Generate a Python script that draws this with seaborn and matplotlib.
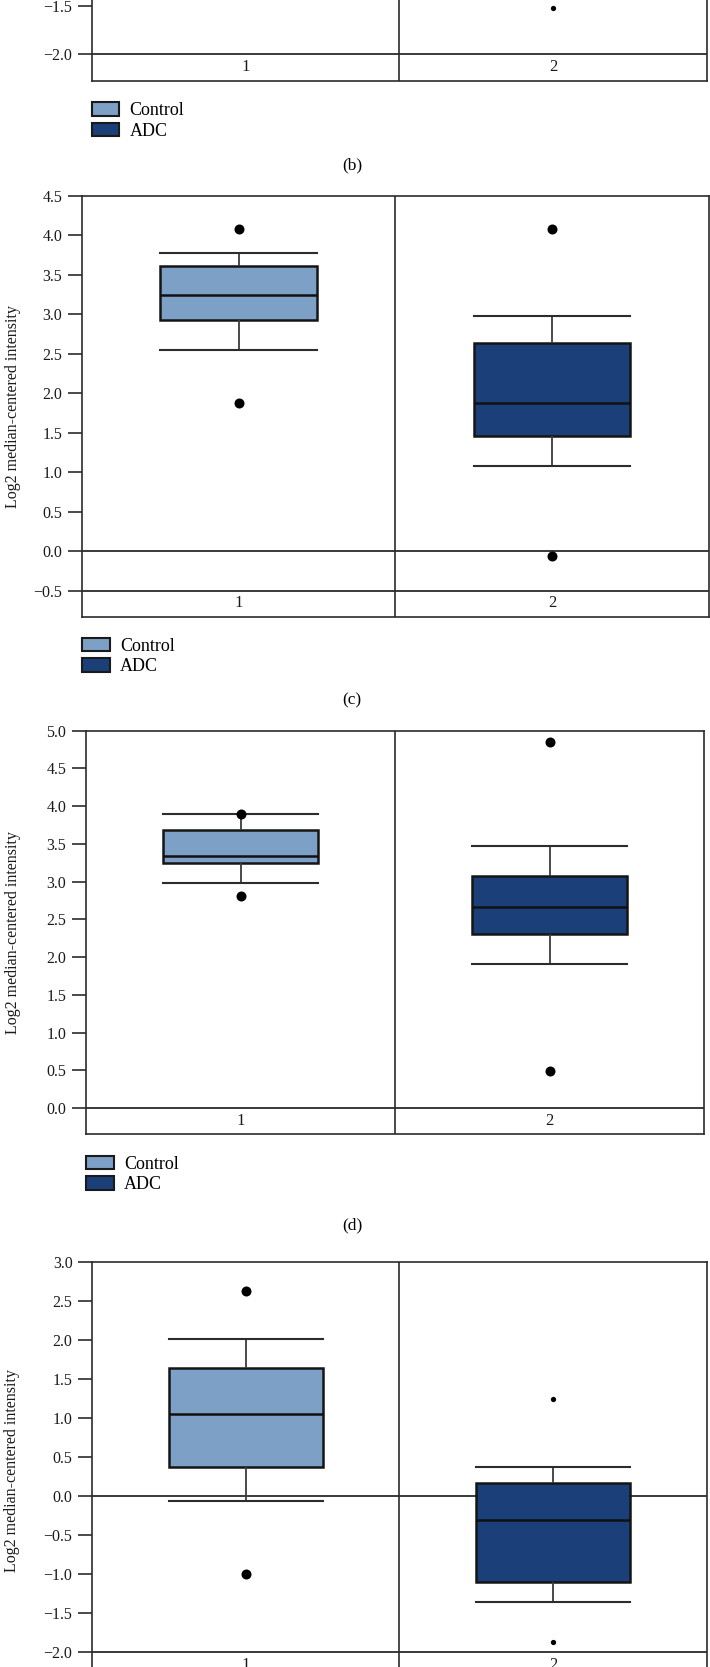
import numpy as np
import pandas as pd
import matplotlib
matplotlib.use("Agg")
import matplotlib.pyplot as plt
from matplotlib.patches import Patch
import seaborn as sns

# ---------------- data ----------------
groups = ["1", "2"]
group_names = ["Control", "ADC"]
group_colors = ["#7DA0C6", "#1A3F79"]

# box summaries: lower whisker, Q1, median, Q3, upper whisker
# panel (b) (only the bottom of the panel is visible)
b_adc_out = [-1.528]

# panel (c)
c_ctrl_box = [2.545, 2.929, 3.238, 3.605, 3.774]
c_ctrl_out = [4.078, 1.873]
c_adc_box = [1.075, 1.464, 1.878, 2.638, 2.980]
c_adc_out = [4.078, -0.057]

# panel (d)
d_ctrl_box = [2.981, 3.251, 3.344, 3.688, 3.891]
d_ctrl_out = [3.900, 2.805]
d_adc_box = [1.913, 2.306, 2.659, 3.079, 3.472]
d_adc_out = [4.854, 0.495]

# panel (e)
e_ctrl_box = [-0.065, 0.376, 1.052, 1.647, 2.020]
e_ctrl_out = [2.632, -0.998]
e_adc_box = [-1.366, -1.110, -0.309, 0.162, 0.372]
e_adc_out = [1.245, -1.876]

y_label = "Log2 median-centered intensity"

# ---------------- style ----------------
plt.rcParams["font.family"] = ["Liberation Serif", "DejaVu Serif"]
LINE = "#2b2b2b"

W, H = 710, 1667
fig = plt.figure(figsize=(W / 100, H / 100), dpi=100)


def add_ax(left, top, right, bottom):
    return fig.add_axes([left / W, 1 - bottom / H, (right - left) / W, (bottom - top) / H])


def draw_box(ax, ctrl_box, adc_box):
    df = pd.DataFrame({
        "group": ["1"] * len(ctrl_box) + ["2"] * len(adc_box),
        "value": ctrl_box + adc_box,
    })
    sns.boxplot(data=df, x="group", y="value", hue="group", order=groups,
                hue_order=groups, palette=group_colors, saturation=1,
                width=0.5, whis=(0, 100), linecolor="#151515", linewidth=1.8,
                legend=False, ax=ax,
                whiskerprops={"color": "#3c3c3c", "linewidth": 1.3},
                capprops={"color": "#2c2c2c", "linewidth": 1.5},
                medianprops={"color": "#111111", "linewidth": 1.8},
                capwidths=0.5)


def draw_out(ax, grp, vals, size):
    sns.stripplot(x=[grp] * len(vals), y=vals, order=groups, jitter=False,
                  color="black", size=size, ax=ax, zorder=6, linewidth=0)


def style(ax, left, right, ylim, yticks, hlines):
    ax.set_xlim(-0.5, 1.5)
    ax.set_ylim(*ylim)
    ax.set_yticks(yticks)
    ax.set_xticks([0, 1])
    ax.set_xticklabels(groups)
    ax.set_xlabel("")
    for s in ax.spines.values():
        s.set_color(LINE)
        s.set_linewidth(1.2)
    for h in hlines:
        ax.axhline(h, color=LINE, lw=1.3, zorder=1)
    ax.axvline(0.5, color=LINE, lw=1.2, zorder=1)
    ax.tick_params(axis="y", length=10, width=1.2, color=LINE, pad=4.3,
                   labelsize=11.5, labelcolor="#1a1a1a")
    ax.tick_params(axis="x", length=0, pad=-15.5, labelsize=12,
                   labelcolor="#1a1a1a")
    ax.set_ylabel(y_label, fontsize=11.5, color="#1a1a1a")
    ax.yaxis.set_label_coords((20.5 - left) / (right - left), 0.5)


def legend(x, y):
    handles = [Patch(facecolor=c, edgecolor="#1a1a1a", linewidth=1.5) for c in group_colors]
    fig.legend(handles, group_names, loc="upper left",
               bbox_to_anchor=(x / W, 1 - y / H), bbox_transform=fig.transFigure,
               frameon=False, borderpad=0, borderaxespad=0, fontsize=13,
               handlelength=1.55, handleheight=0.78, labelspacing=0.2,
               handletextpad=0.55)


# ---- panel (b), bottom fragment ----
ax_b = add_ax(91.5, -42.6, 707.4, 80.7)
draw_out(ax_b, "2", b_adc_out, 3.8)
style(ax_b, 91.5, 707.4, (-2.276, -1.0), [-2.0, -1.5], [-2.0])
ax_b.set_ylabel("")
legend(91.5, 102)
fig.text(352 / W, 1 - 165 / H, "(b)", ha="center", va="center", fontsize=12.5)

# ---- panel (c) ----
ax_c = add_ax(82, 195.6, 708.8, 617)
draw_box(ax_c, c_ctrl_box, c_adc_box)
draw_out(ax_c, "1", c_ctrl_out, 7.2)
draw_out(ax_c, "2", c_adc_out, 7.2)
style(ax_c, 82, 708.8, (-0.83, 4.5), np.arange(-0.5, 4.51, 0.5), [0.0, -0.5])
legend(82, 637.5)
fig.text(352 / W, 1 - 700 / H, "(c)", ha="center", va="center", fontsize=12.5)

# ---- panel (d) ----
ax_d = add_ax(86, 730.7, 704.3, 1134.3)
draw_box(ax_d, d_ctrl_box, d_adc_box)
draw_out(ax_d, "1", d_ctrl_out, 7.2)
draw_out(ax_d, "2", d_adc_out, 7.2)
style(ax_d, 86, 704.3, (-0.349, 5.0), np.arange(0.0, 5.01, 0.5), [0.0])
legend(86, 1155.5)
fig.text(352 / W, 1 - 1225 / H, "(d)", ha="center", va="center", fontsize=12.5)

# ---- panel (e), top part ----
ax_e = add_ax(92.4, 1262.3, 706.5, 1678.2)
draw_box(ax_e, e_ctrl_box, e_adc_box)
draw_out(ax_e, "1", e_ctrl_out, 7.2)
draw_out(ax_e, "2", e_adc_out, 3.8)
style(ax_e, 92.4, 706.5, (-2.34, 3.0), np.arange(-2.0, 3.01, 0.5), [0.0, -2.0])

fig.savefig("out.png", dpi=100)
